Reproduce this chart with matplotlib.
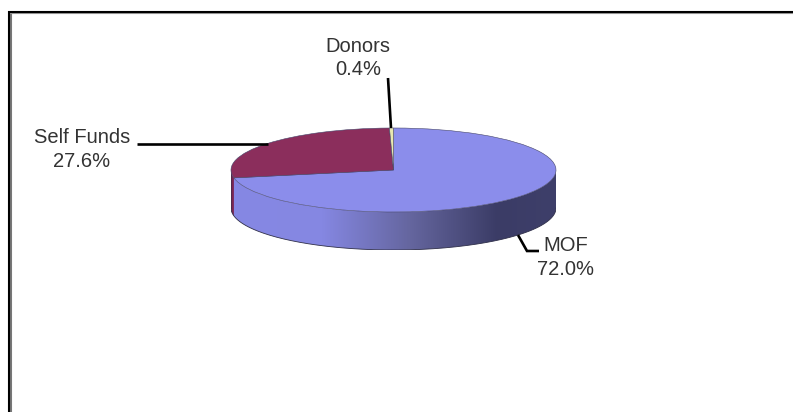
import numpy as np
import matplotlib
matplotlib.use("Agg")
import matplotlib.pyplot as plt
from matplotlib.lines import Line2D
from matplotlib.patches import Polygon
from matplotlib.colors import to_rgb

plt.rcParams['font.family'] = ['Liberation Sans', 'DejaVu Sans']

W, H = 793, 412
labels = ['MOF', 'Self Funds', 'Donors']
values = [72.0, 27.6, 0.4]
colors = ['#8b8deb', '#8b2e5c', '#e8e8b0']
side_stops = [0.0, 0.28, 0.55, 0.82, 1.0]
side_colors = ['#8688e4', '#8587e2', '#65669f', '#3b3c66', '#3e3f6a']
side_dark_red = '#7a2450'
cx, cy, rx, ry, depth = 393.5, 170.0, 162.5, 42.0, 38.0

fig = plt.figure(figsize=(W / 100, H / 100), dpi=100, facecolor='white')

# pie axes: the unit circle is squashed by the axes' own limits
ax = fig.add_axes([(cx - rx) / W, 1 - (cy + ry + depth) / H, 2 * rx / W, (2 * ry + depth) / H])
dy = depth / ry
edges = np.cumsum([0] + values) / 100 * 360
start = 90.0
boundary = (start - edges[1]) % 360    # MOF / Self Funds boundary, counter-clockwise degrees

# side wall: horizontal gradient clipped to the wall outline
stop_rgb = np.array([to_rgb(c) for c in side_colors])
gx = np.linspace(0, 1, 400)
grad = np.stack([np.interp(gx, side_stops, stop_rgb[:, k]) for k in range(3)], axis=-1)[None, :, :]
tt = np.linspace(np.pi, 2 * np.pi, 300)
wall = np.vstack([np.c_[np.cos(tt), np.sin(tt) - dy], np.c_[np.cos(tt[::-1]), np.sin(tt[::-1])]])
im = ax.imshow(grad, extent=(-1, 1, -1 - dy, 1), aspect='auto', interpolation='bilinear', zorder=1)
im.set_clip_path(Polygon(wall, closed=True, transform=ax.transData))

# dark part of the wall under Self Funds
tr = np.radians(np.linspace(180, boundary, 30))
red = np.vstack([np.c_[np.cos(tr), np.sin(tr) - dy], np.c_[np.cos(tr[::-1]), np.sin(tr[::-1])]])
ax.add_patch(Polygon(red, closed=True, color=side_dark_red, lw=0, zorder=1.5))

ax.plot(np.cos(tt), np.sin(tt) - dy, color='#30304a', lw=0.6, zorder=2)
ax.plot([-1, -1], [0, -dy], color='#30304a', lw=0.4, zorder=2)
ax.plot([1, 1], [0, -dy], color='#30304a', lw=0.4, zorder=2)

# top face
wedges, _ = ax.pie(values, colors=colors, startangle=start, counterclock=False,
                   radius=1, center=(0, 0), frame=False,
                   wedgeprops=dict(edgecolor='#45456a', linewidth=0.4))
for w in wedges:
    w.set_zorder(3)
ax.set_aspect('auto')
ax.set_xlim(-1, 1)
ax.set_ylim(-1 - dy, 1)
ax.axis('off')

# figure-level overlay in pixel coordinates
ov = fig.add_axes([0, 0, 1, 1], facecolor='none')
ov.set_xlim(0, W)
ov.set_ylim(H, 0)
ov.axis('off')

frame = dict(solid_capstyle='butt', snap=False)
ov.add_line(Line2D([11, 11], [412, 13], color='#777777', lw=1.5, **frame))
ov.add_line(Line2D([10, 793], [13.5, 13.5], color='#999999', lw=0.8, **frame))
ov.add_line(Line2D([9, 9], [412, 11], color='black', lw=1.5, **frame))
ov.add_line(Line2D([8, 793], [12, 12], color='black', lw=1.5, **frame))

leader = dict(color='black', lw=1.9, solid_capstyle='butt', solid_joinstyle='miter')
ov.add_line(Line2D([137, 268], [144, 144], **leader))
ov.add_line(Line2D([388, 391], [78, 128], **leader))
ov.add_line(Line2D([518, 527, 539], [235, 251, 251], **leader))

font = dict(fontsize=14.5, color='#333333', ha='center', va='center', linespacing=1.32)
ov.text(82, 149.5, f'{labels[1]}\n{values[1]:.1f}%', **font)
ov.text(358, 58, f'{labels[2]}\n{values[2]:.1f}%', **font)
ov.text(566, 257.5, f'{labels[0]}\n{values[0]:.1f}%', **font)

fig.savefig('out.png', dpi=100, facecolor='white')
